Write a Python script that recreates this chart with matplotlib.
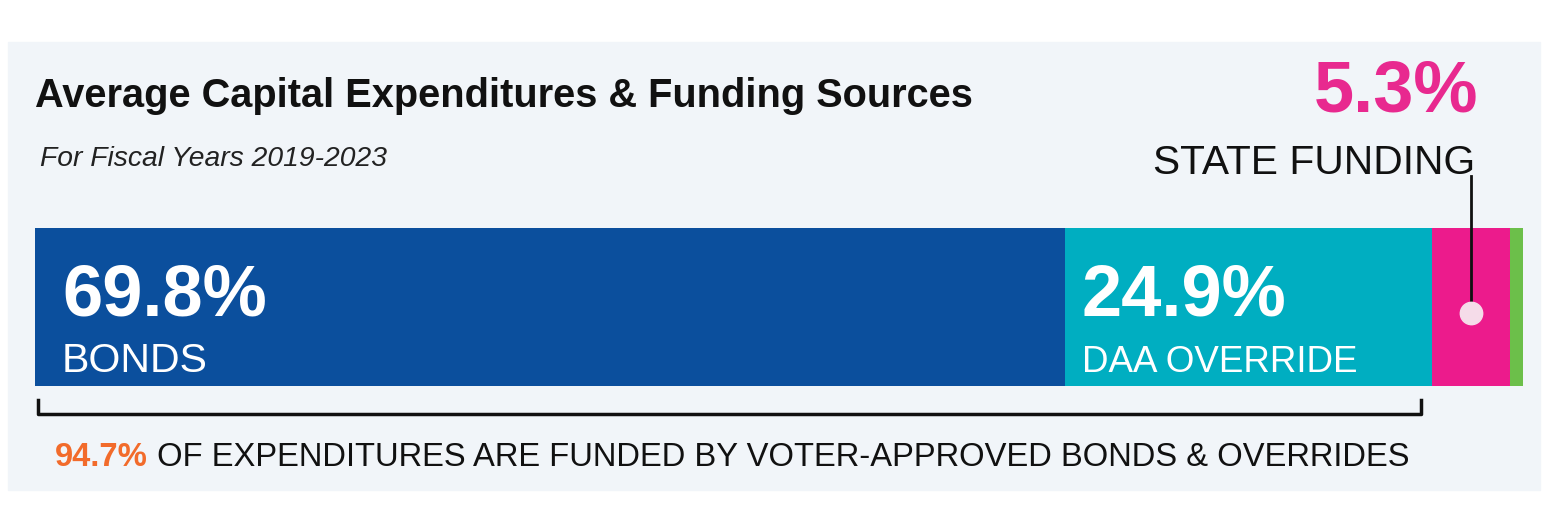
import matplotlib.pyplot as plt
from matplotlib.patches import Rectangle

# data
sources = ['BONDS', 'DAA OVERRIDE', 'STATE FUNDING', '']
shares = [69.8, 24.9, 5.3, 0.9]
colors = ['#0b4f9d', '#00aec1', '#ec1b8c', '#6cbf4a']
voter_share = 94.7

W, H = 1552, 508
FONT = ['Liberation Sans', 'DejaVu Sans']
plt.rcParams['font.family'] = FONT


def fx(px):
    return px / W


def fy(py):
    return 1 - py / H


fig = plt.figure(figsize=(W / 100, H / 100), dpi=100, facecolor='white')

# light panel behind everything
fig.patches.append(Rectangle((fx(8), fy(490)), fx(1540) - fx(8), fy(42) - fy(490),
                             transform=fig.transFigure, color='#f1f5f9', zorder=-5))

ax = fig.add_axes([fx(35), fy(386), fx(1510) - fx(35), fy(228) - fy(386)])
ax.set_xlim(0, 100)
ax.set_ylim(0, 1)
ax.axis('off')

left = 0
for v, c in zip(shares, colors):
    ax.barh(0.5, v, left=left, height=1, color=c, clip_on=False)
    left += v

# labels inside the bar
lefts = [0, shares[0]]
pads = [27, 17]
label_sizes = [29.5, 26.5]
for i in range(2):
    ax.annotate(f'{shares[i]}%', xy=(lefts[i], 1), xytext=(pads[i], -87),
                textcoords='offset pixels', color='white', fontsize=52,
                fontweight='bold', va='baseline')
    ax.annotate(sources[i], xy=(lefts[i], 1), xytext=(pads[i], -144),
                textcoords='offset pixels', color='white',
                fontsize=label_sizes[i], va='baseline')

# state funding callout
mid = shares[0] + shares[1] + shares[2] / 2
ax.plot([mid, mid], [0.46, 1.33], color='#111111', lw=2, clip_on=False)
ax.scatter([mid], [0.46], s=260, color='#f5dce9', zorder=5, clip_on=False)
fig.text(fx(1478), fy(112), f'{shares[2]}%', color='#e8298f', fontsize=52,
         fontweight='bold', ha='right', va='baseline')
fig.text(fx(1475), fy(174), sources[2], color='#111111', fontsize=29.3,
         ha='right', va='baseline')

# bracket under bonds + overrides
bx = shares[0] + shares[1] - 0.7
ax.plot([0.2, 0.2, bx, bx], [-0.09, -0.18, -0.18, -0.09], color='#111111',
        lw=2.5, clip_on=False)

# titles
fig.text(fx(35), fy(107), 'Average Capital Expenditures & Funding Sources',
         fontsize=28.6, fontweight='bold', color='#111111', va='baseline')
fig.text(fx(40), fy(166), 'For Fiscal Years 2019-2023', fontsize=20.3,
         style='italic', color='#222222', va='baseline')

t1 = fig.text(fx(55), fy(466), f'{voter_share}%', fontsize=23.6, fontweight='bold',
              color='#f26b2b', va='baseline')
ax.annotate(' OF EXPENDITURES ARE FUNDED BY VOTER-APPROVED BONDS & OVERRIDES',
            xy=(1, 0), xycoords=t1, fontsize=23.6, color='#111111',
            va='bottom', annotation_clip=False)

fig.savefig('out.png', dpi=100, facecolor='white')
